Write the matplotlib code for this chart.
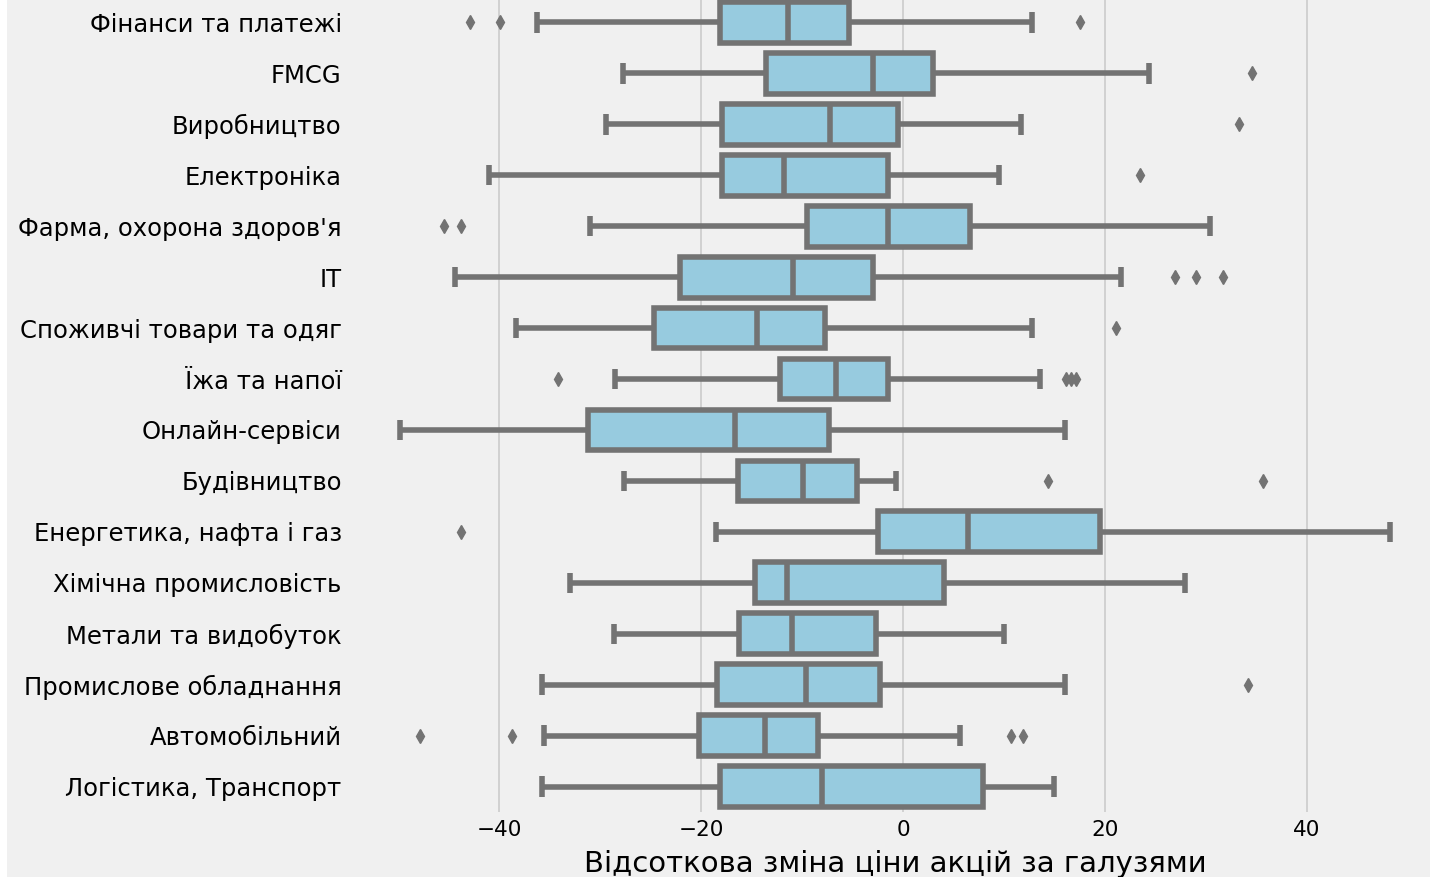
import numpy as np
import matplotlib
matplotlib.use("Agg")
import matplotlib.pyplot as plt
from matplotlib.patches import Rectangle

# галузі (зверху вниз) та статистика боксплотів
industries = ["Фінанси та платежі", "FMCG", "Виробництво", "Електроніка",
              "Фарма, охорона здоров'я", "ІТ", "Споживчі товари та одяг",
              "Їжа та напої", "Онлайн-сервіси", "Будівництво",
              "Енергетика, нафта і газ", "Хімічна промисловість",
              "Метали та видобуток", "Промислове обладнання",
              "Автомобільний", "Логістика, Транспорт"]

whislo = [-36.3, -27.8, -29.4, -41.0, -31.0, -44.4, -38.4, -28.5,
          -49.9, -27.7, -18.5, -33.0, -28.6, -35.8, -35.6, -35.8]
q1 = [-18.1, -13.6, -17.9, -17.9, -9.5, -22.1, -24.7, -12.2,
      -31.2, -16.4, -2.5, -14.7, -16.3, -18.4, -20.2, -18.1]
med = [-11.4, -3.0, -7.2, -11.8, -1.5, -10.9, -14.5, -6.6,
       -16.7, -9.9, 6.4, -11.5, -11.0, -9.6, -13.7, -8.0]
q3 = [-5.4, 3.0, -0.5, -1.5, 6.6, -3.0, -7.7, -1.5,
      -7.3, -4.6, 19.5, 4.1, -2.7, -2.3, -8.4, 7.9]
whishi = [12.8, 24.4, 11.7, 9.5, 30.4, 21.6, 12.8, 13.6,
          16.0, -0.7, 48.3, 27.9, 10.0, 16.0, 5.6, 15.0]
fliers = [[-42.9, -39.9, 17.5], [34.6], [33.3], [23.5], [-45.5, -43.8],
          [26.9, 29.0, 31.7], [21.1], [-34.2, 16.1, 16.6, 17.1], [],
          [14.4, 35.7], [-43.8], [], [], [34.2],
          [-47.9, -38.8, 10.7, 11.9], []]

plt.style.use("fivethirtyeight")
plt.rcParams['font.family'] = ['DejaVu Sans']

fig = plt.figure(figsize=(14.3, 8.77), dpi=100)
fig.patch.set_facecolor("#f0f0f0")
ax = fig.add_axes([350 / 1430, 65 / 877, 1090 / 1430, 815 / 877])
ax.set_facecolor("#f0f0f0")

stats = []
for i in range(len(industries)):
    stats.append(dict(label=industries[i], whislo=whislo[i], q1=q1[i],
                      med=med[i], q3=q3[i], whishi=whishi[i],
                      fliers=fliers[i]))

line_c = "#737373"
pos = np.arange(len(industries))
ax.bxp(stats, positions=pos, widths=0.8, orientation="horizontal",
       patch_artist=True,
       boxprops=dict(facecolor="#97cbdf", edgecolor=line_c, linewidth=4),
       whiskerprops=dict(color=line_c, linewidth=4),
       capprops=dict(color=line_c, linewidth=4),
       medianprops=dict(color=line_c, linewidth=4),
       flierprops=dict(marker="d", markerfacecolor=line_c,
                       markeredgecolor=line_c, markersize=7))

ax.set_ylim(len(industries) - 0.5, -0.5)
ax.set_yticks(pos, industries, fontsize=17.5)
ax.tick_params(axis="x", labelsize=15.5, pad=6)
ax.tick_params(axis="y", pad=6)
ax.yaxis.grid(False)
ax.xaxis.grid(True, color="#cbcbcb", linewidth=1.2)
ax.set_axisbelow(True)
for s in ax.spines.values():
    s.set_visible(False)
ax.set_xlabel("Відсоткова зміна ціни акцій за галузями", fontsize=21,
              labelpad=7)

# біла смужка зліва, як на знімку
fig.patches.append(Rectangle((0, 0), 7 / 1430, 1, transform=fig.transFigure,
                             facecolor="white", edgecolor="none", zorder=10))

fig.savefig("out.png", dpi=100, facecolor=fig.get_facecolor())
